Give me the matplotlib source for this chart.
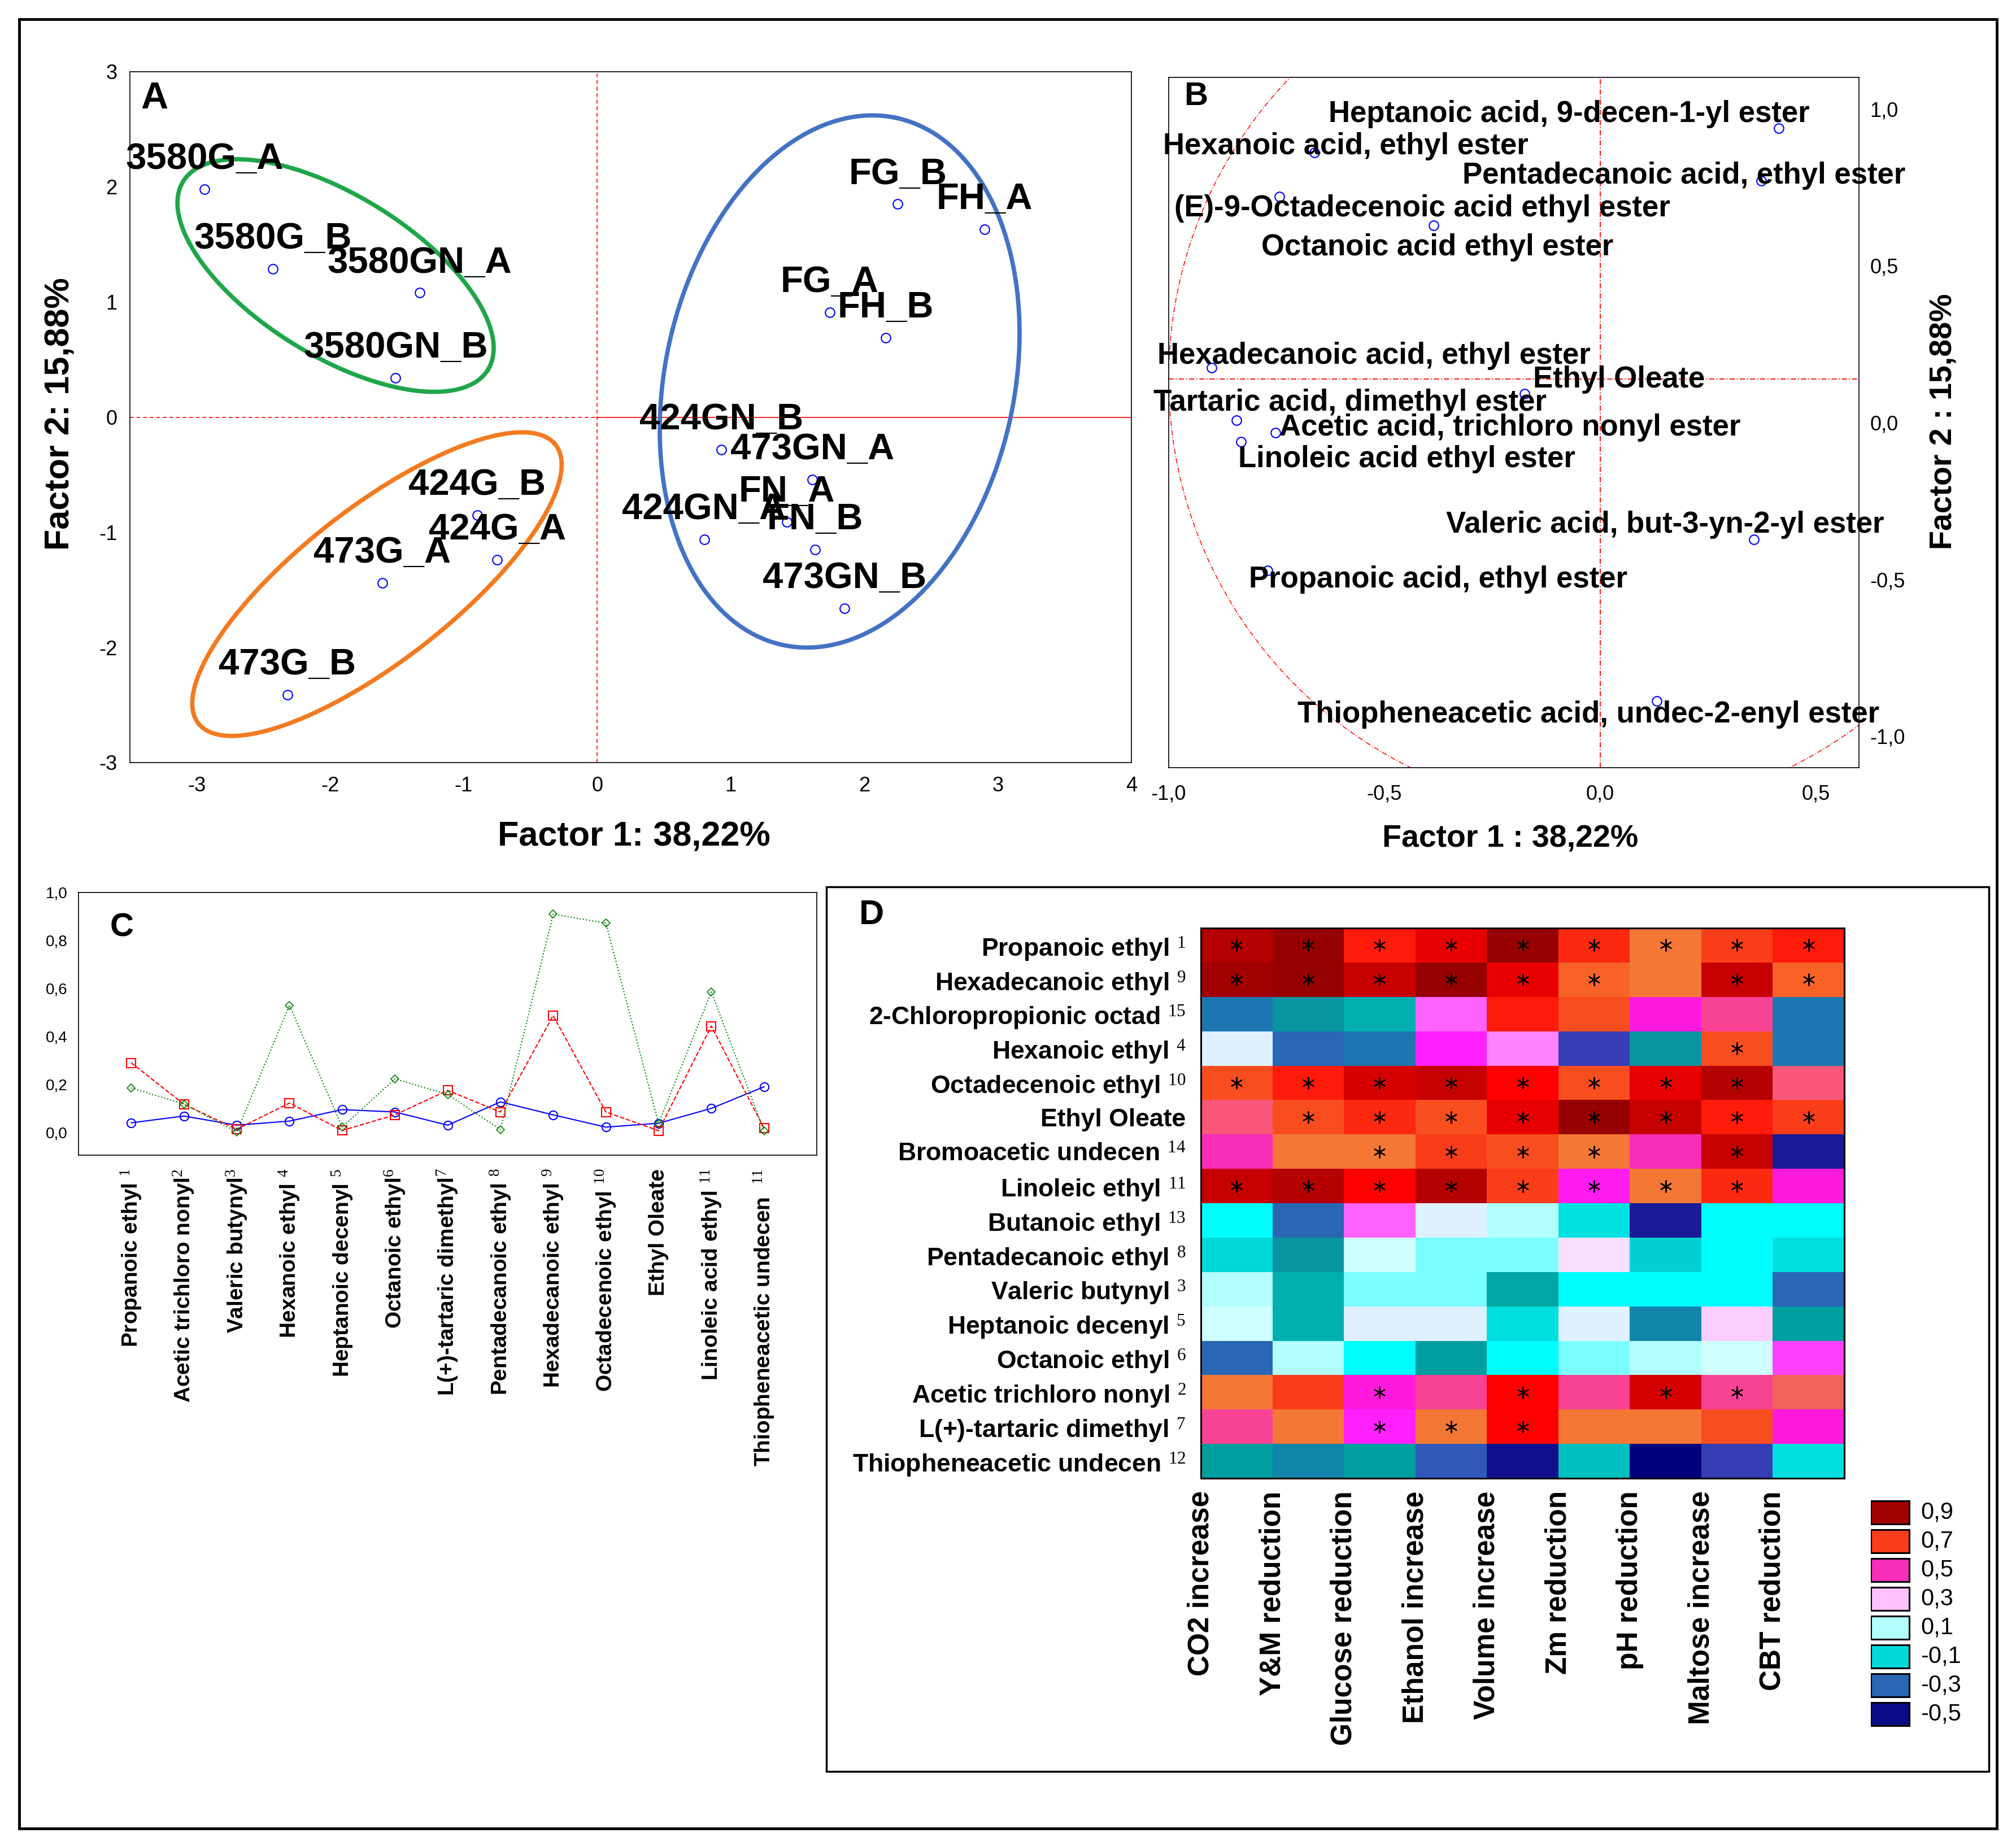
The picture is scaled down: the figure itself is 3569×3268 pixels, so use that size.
import numpy as np
import matplotlib
matplotlib.use('Agg')
import matplotlib.pyplot as plt
from matplotlib import font_manager
from matplotlib.colors import LinearSegmentedColormap, Normalize
from matplotlib.patches import Rectangle, Ellipse

names = {f.name for f in font_manager.fontManager.ttflist}
SANS = 'Liberation Sans' if 'Liberation Sans' in names else 'DejaVu Sans'

plt.rcParams['font.family'] = SANS
plt.rcParams['axes.unicode_minus'] = False
plt.rcParams['mathtext.fontset'] = 'custom'
plt.rcParams['mathtext.rm'] = 'Liberation Serif'
plt.rcParams['mathtext.it'] = 'Liberation Serif:italic'
plt.rcParams['mathtext.bf'] = 'Liberation Serif:bold'

# ---------------- panel A: sample scores
samples = ['3580G_A', '3580G_B', '3580GN_A', '3580GN_B', '424G_B', '424G_A', '473G_A', '473G_B',
           'FG_B', 'FH_A', 'FG_A', 'FH_B', '424GN_B', '473GN_A', 'FN_A', 'FN_B', '424GN_A', '473GN_B']
score_f1 = [-2.94, -2.43, -1.33, -1.51, -0.90, -0.75, -1.61, -2.32,
            2.25, 2.90, 1.74, 2.16, 0.93, 1.61, 1.42, 1.63, 0.80, 1.85]
score_f2 = [1.98, 1.29, 1.08, 0.34, -0.85, -1.24, -1.44, -2.41,
            1.85, 1.63, 0.91, 0.69, -0.28, -0.54, -0.91, -1.15, -1.06, -1.66]
# group ellipses: centre, semi axis u, semi axis v (data units)
groups = [
    ('#1fa64a', (-1.96, 1.23), (1.14, -0.82), (0.32, 0.59)),
    ('#f47a20', (-1.65, -1.45), (1.33, 1.22), (-0.38, 0.50)),
    ('#4472c4', (1.815, 0.31), (0.42, 2.29), (1.28, -0.31)),
]

# ---------------- panel B: variable loadings
compounds = ['Heptanoic acid, 9-decen-1-yl ester', 'Hexanoic acid, ethyl ester',
             'Pentadecanoic acid, ethyl ester', '(E)-9-Octadecenoic acid ethyl ester',
             'Octanoic acid ethyl ester', 'Hexadecanoic acid, ethyl ester', 'Ethyl Oleate',
             'Tartaric acid, dimethyl ester', 'Acetic acid, trichloro nonyl ester',
             'Linoleic acid ethyl ester', 'Valeric acid, but-3-yn-2-yl ester',
             'Propanoic acid, ethyl ester', 'Thiopheneacetic acid, undec-2-enyl ester']
load_f1 = [0.414, -0.662, 0.373, -0.743, -0.386, -0.900, -0.175, -0.843, -0.752, -0.833, 0.356, -0.771, 0.131]
load_f2 = [0.938, 0.861, 0.770, 0.720, 0.628, 0.175, 0.092, 0.008, -0.033, -0.062, -0.372, -0.472, -0.887]
# label anchors (left, middle)
lab_x = [-0.630, -1.013, -0.319, -0.987, -0.785, -1.026, -0.156, -1.035, -0.743, -0.839, -0.357, -0.814, -0.702]
lab_y = [0.983, 0.880, 0.787, 0.683, 0.558, 0.213, 0.137, 0.063, -0.017, -0.117, -0.325, -0.500, -0.930]

# ---------------- panel C: profiles
c_labels = ['Propanoic ethyl $^{1}$', 'Acetic trichloro nonyl$^{2}$', 'Valeric butynyl$^{3}$',
            'Hexanoic ethyl $^{4}$', 'Heptanoic decenyl $^{5}$', 'Octanoic ethyl$^{6}$',
            'L(+)-tartaric dimethyl$^{7}$', 'Pentadecanoic ethyl $^{8}$', 'Hexadecanoic ethyl $^{9}$',
            'Octadecenoic ethyl $^{10}$', 'Ethyl Oleate', 'Linoleic acid ethyl $^{11}$',
            'Thiopheneacetic undecen  $^{11}$']
c_blue = [0.040, 0.068, 0.030, 0.047, 0.095, 0.085, 0.030, 0.127, 0.073, 0.022, 0.038, 0.100, 0.190]
c_red = [0.290, 0.117, 0.013, 0.122, 0.008, 0.073, 0.175, 0.085, 0.487, 0.085, 0.007, 0.443, 0.017]
c_green = [0.185, 0.118, 0.002, 0.530, 0.022, 0.223, 0.158, 0.012, 0.910, 0.872, 0.037, 0.585, 0.007]

# ---------------- panel D: correlation heatmap
d_rows = ['Propanoic ethyl', 'Hexadecanoic ethyl', '2-Chloropropionic octad', 'Hexanoic ethyl',
          'Octadecenoic ethyl', 'Ethyl Oleate', 'Bromoacetic undecen', 'Linoleic ethyl',
          'Butanoic ethyl', 'Pentadecanoic ethyl', 'Valeric butynyl', 'Heptanoic decenyl',
          'Octanoic ethyl', 'Acetic trichloro nonyl', 'L(+)-tartaric dimethyl', 'Thiopheneacetic undecen']
d_sup = [1, 9, 15, 4, 10, None, 14, 11, 13, 8, 3, 5, 6, 2, 7, 12]
d_cols = ['CO2 increase', 'Y&M reduction', 'Glucose reduction', 'Ethanol increase', 'Volume increase',
          'Zm reduction', 'pH reduction', 'Maltose increase', 'CBT reduction']
d_vals = np.array([
    [0.87, 0.95, 0.73, 0.80, 0.95, 0.715, 0.60, 0.70, 0.73],
    [0.90, 0.95, 0.84, 0.95, 0.80, 0.64, 0.60, 0.84, 0.64],
    [-0.27, -0.23, -0.15, 0.38, 0.73, 0.67, 0.47, 0.52, -0.27],
    [0.18, -0.30, -0.27, 0.44, 0.35, -0.40, -0.23, 0.67, -0.27],
    [0.67, 0.73, 0.82, 0.84, 0.76, 0.67, 0.80, 0.87, 0.55],
    [0.55, 0.67, 0.715, 0.67, 0.80, 0.95, 0.84, 0.73, 0.70],
    [0.50, 0.60, 0.60, 0.70, 0.67, 0.60, 0.50, 0.84, -0.47],
    [0.84, 0.87, 0.76, 0.87, 0.70, 0.45, 0.60, 0.715, 0.47],
    [0.00, -0.30, 0.38, 0.18, 0.10, -0.07, -0.47, 0.00, 0.00],
    [-0.10, -0.23, 0.14, 0.05, 0.05, 0.25, -0.11, 0.00, -0.08],
    [0.10, -0.15, 0.05, 0.05, -0.18, 0.00, 0.00, 0.00, -0.30],
    [0.14, -0.15, 0.18, 0.18, -0.08, 0.18, -0.25, 0.28, -0.20],
    [-0.30, 0.10, 0.00, -0.20, 0.00, 0.05, 0.10, 0.14, 0.41],
    [0.60, 0.70, 0.47, 0.52, 0.76, 0.52, 0.82, 0.52, 0.57],
    [0.52, 0.60, 0.44, 0.60, 0.76, 0.60, 0.60, 0.67, 0.47],
    [-0.20, -0.25, -0.20, -0.35, -0.49, -0.13, -0.55, -0.40, -0.08],
])
d_star = np.array([
    [1, 1, 1, 1, 1, 1, 1, 1, 1],
    [1, 1, 1, 1, 1, 1, 0, 1, 1],
    [0, 0, 0, 0, 0, 0, 0, 0, 0],
    [0, 0, 0, 0, 0, 0, 0, 1, 0],
    [1, 1, 1, 1, 1, 1, 1, 1, 0],
    [0, 1, 1, 1, 1, 1, 1, 1, 1],
    [0, 0, 1, 1, 1, 1, 0, 1, 0],
    [1, 1, 1, 1, 1, 1, 1, 1, 0],
    [0, 0, 0, 0, 0, 0, 0, 0, 0],
    [0, 0, 0, 0, 0, 0, 0, 0, 0],
    [0, 0, 0, 0, 0, 0, 0, 0, 0],
    [0, 0, 0, 0, 0, 0, 0, 0, 0],
    [0, 0, 0, 0, 0, 0, 0, 0, 0],
    [0, 0, 1, 0, 1, 0, 1, 1, 0],
    [0, 0, 1, 1, 1, 0, 0, 0, 0],
    [0, 0, 0, 0, 0, 0, 0, 0, 0],
], dtype=bool)
legend_levels = [0.9, 0.7, 0.5, 0.3, 0.1, -0.1, -0.3, -0.5]

cmap_anchors = [
    (-0.60, '#000078'), (-0.55, '#000080'), (-0.50, '#0c0c88'), (-0.47, '#1c1c98'),
    (-0.40, '#3840b8'), (-0.35, '#3058b8'), (-0.30, '#2868b4'), (-0.27, '#1c78b0'),
    (-0.25, '#1088a8'), (-0.23, '#0894a0'), (-0.20, '#00a0a0'), (-0.15, '#00b0b0'),
    (-0.10, '#00d8d8'), (-0.05, '#00e8e8'), (0.00, '#00ffff'), (0.05, '#78ffff'),
    (0.10, '#b8ffff'), (0.14, '#d0ffff'), (0.18, '#e0f0ff'), (0.25, '#f8e0ff'),
    (0.30, '#ffc0ff'), (0.35, '#ff80ff'), (0.38, '#ff60ff'), (0.41, '#ff40ff'),
    (0.44, '#ff20ff'), (0.47, '#ff18e0'), (0.50, '#f828c0'), (0.52, '#f84098'),
    (0.55, '#f85878'), (0.57, '#f06060'), (0.60, '#f47834'), (0.64, '#f86428'),
    (0.67, '#f85020'), (0.70, '#f83c18'), (0.73, '#ff1a0a'), (0.76, '#ff0000'),
    (0.80, '#e80000'), (0.84, '#c80000'), (0.87, '#b80000'), (0.90, '#a40000'),
    (0.95, '#960000'), (1.00, '#8c0000'),
]
vmin, vmax = -0.6, 1.0
cmap = LinearSegmentedColormap.from_list(
    'corr', [((v - vmin) / (vmax - vmin), c) for v, c in cmap_anchors])
norm = Normalize(vmin, vmax)

W, H = 3569, 3268


def box(l, t, r, b):
    return [l / W, 1 - b / H, (r - l) / W, (b - t) / H]


def comma(v, nd=1):
    return f'{v:.{nd}f}'.replace('.', ',')


fig = plt.figure(figsize=(W / 100, H / 100), dpi=100)

# outer frame and panel D frame
fig.add_artist(Rectangle((34 / W, 1 - 3237 / H), (3535 - 34) / W, (3237 - 34) / H,
                         transform=fig.transFigure, fill=False, lw=3.5, ec='black'))
fig.add_artist(Rectangle((1463 / W, 1 - 3136 / H), (3521 - 1463) / W, (3136 - 1570) / H,
                         transform=fig.transFigure, fill=False, lw=2.5, ec='black'))

# ================= A
axA = fig.add_axes(box(230, 127, 2003, 1350))
axA.set_xlim(-3.5, 4)
axA.set_ylim(-3, 3)
axA.axvline(0, color='#ff0000', ls=(0, (4, 3)), lw=1.2)
axA.plot([-3.5, 0], [0, 0], color='#ff0000', ls=(0, (4, 3)), lw=1.2)
axA.plot([0, 4], [0, 0], color='#ff0000', ls='-', lw=1.2)
t = np.linspace(0, 2 * np.pi, 300)
for col, c, u, v in groups:
    axA.plot(c[0] + u[0] * np.cos(t) + v[0] * np.sin(t),
             c[1] + u[1] * np.cos(t) + v[1] * np.sin(t), color=col, lw=5.5)
axA.plot(score_f1, score_f2, 'o', mfc='none', mec='#0000ff', ms=12, mew=1.5, ls='none')
for name, x, y in zip(samples, score_f1, score_f2):
    axA.annotate(name, (x, y), xytext=(0, 38), textcoords='offset points', ha='center',
                 va='center', fontsize=47, fontweight='bold')
axA.set_xticks(range(-3, 5))
axA.set_xticklabels([str(v) for v in range(-3, 5)])
axA.set_yticks(range(-3, 4))
axA.set_yticklabels([str(v) for v in range(-3, 4)])
axA.tick_params(axis='x', length=0, labelsize=26, pad=17)
axA.tick_params(axis='y', length=0, labelsize=26, pad=16)
for s in axA.spines.values():
    s.set_linewidth(1.2)
fig.text(273 / W, 1 - 175 / H, 'A', fontsize=48, fontweight='bold', ha='center', va='center')
fig.text(1122 / W, 1 - 1482 / H, 'Factor 1: 38,22%', fontsize=44, fontweight='bold',
         ha='center', va='center')
fig.text(107 / W, 1 - 733 / H, 'Factor 2: 15,88%', fontsize=44, fontweight='bold',
         ha='center', va='center', rotation=90)

# ================= B
axB = fig.add_axes(box(2069, 137, 3291, 1359))
axB.set_xlim(-1.0, 0.6)
axB.set_ylim(-1.1, 1.1)
axB.add_patch(Ellipse((0, 0.14), 2.0, 2.76, fill=False, ec='#ff0000', lw=1.1,
                      ls=(0, (6, 2, 1, 2))))
axB.axvline(0, color='#ff0000', ls=(0, (5, 2, 1, 2)), lw=1.3)
axB.axhline(0.138, color='#ff0000', ls=(0, (5, 2, 1, 2)), lw=1.3)
axB.plot(load_f1, load_f2, 'o', mfc='none', mec='#0000ff', ms=12, mew=1.5, ls='none')
for name, x, y in zip(compounds, lab_x, lab_y):
    axB.text(x, y, name, ha='left', va='center', fontsize=38, fontweight='bold')
bx = [-1.0, -0.5, 0.0, 0.5]
by = [1.0, 0.5, 0.0, -0.5, -1.0]
axB.set_xticks(bx)
axB.set_xticklabels([comma(v) for v in bx])
axB.set_yticks(by)
axB.set_yticklabels([comma(v) for v in by])
axB.yaxis.tick_right()
axB.tick_params(axis='x', length=0, labelsize=26, pad=21)
axB.tick_params(axis='y', length=0, labelsize=26, pad=14)
for s in axB.spines.values():
    s.set_linewidth(1.2)
fig.text(2117 / W, 1 - 171 / H, 'B', fontsize=42, fontweight='bold', ha='center', va='center')
fig.text(2674 / W, 1 - 1486 / H, 'Factor 1 : 38,22%', fontsize=40, fontweight='bold',
         ha='center', va='center')
fig.text(3441 / W, 1 - 746 / H, 'Factor 2 : 15,88%', fontsize=40, fontweight='bold',
         ha='center', va='center', rotation=90)

# ================= C
axC = fig.add_axes(box(139, 1580, 1446, 2045))
xc = np.arange(len(c_labels))
axC.plot(xc, c_blue, '-o', color='#0000ff', mfc='none', ms=11, mew=1.5, lw=1.5)
axC.plot(xc, c_red, '--s', color='#ff0000', mfc='none', ms=12, mew=1.5, lw=1.5)
axC.plot(xc, c_green, ':D', color='#008000', mfc='none', ms=7, mew=1.2, lw=1.5)
axC.set_xlim(-1, 13)
axC.set_ylim(-0.095, 1.0)
axC.set_xticks(xc)
axC.set_xticklabels(c_labels, rotation=90, fontsize=28, fontweight='bold')
cy = [0.0, 0.2, 0.4, 0.6, 0.8, 1.0]
axC.set_yticks(cy)
axC.set_yticklabels([comma(v) for v in cy])
axC.tick_params(axis='x', length=0, pad=17)
axC.tick_params(axis='y', length=0, labelsize=20, pad=14)
for s in axC.spines.values():
    s.set_linewidth(1.2)
fig.text(216 / W, 1 - 1643 / H, 'C', fontsize=42, fontweight='bold', ha='center', va='center')

# ================= D
axD = fig.add_axes(box(2126, 1643, 3265, 2617))
nr, nc = d_vals.shape
axD.pcolormesh(np.arange(nc + 1), np.arange(nr + 1), d_vals, cmap=cmap, norm=norm)
axD.set_xlim(0, nc)
axD.set_ylim(nr, 0)
si, sj = np.nonzero(d_star)
axD.scatter(sj + 0.5, si + 0.5, marker=(6, 2, 0), s=210, c='black', linewidths=1.6)
axD.set_yticks(np.arange(nr) + 0.5)
axD.set_yticklabels([n if s is None else n + r' $^{%d}$' % s for n, s in zip(d_rows, d_sup)],
                    fontsize=32, fontweight='bold')
axD.set_xticks(np.arange(nc))
axD.set_xticklabels(d_cols, rotation=90, fontsize=37, fontweight='bold')
axD.tick_params(axis='y', length=0, pad=19)
axD.tick_params(axis='x', length=0, pad=16)
for s in axD.spines.values():
    s.set_linewidth(2.2)
fig.text(1543 / W, 1 - 1620 / H, 'D', fontsize=44, fontweight='bold', ha='center', va='center')

# legend for D
axL = fig.add_axes(box(3312, 2652, 3530, 3060))
axL.set_xlim(0, 218)
axL.set_ylim(len(legend_levels), 0)
axL.axis('off')
for k, lv in enumerate(legend_levels):
    axL.add_patch(Rectangle((0, k + 0.1), 68, 0.8, fc=cmap(norm(lv)), ec='black', lw=2.2))
    axL.text(88, k + 0.5, comma(lv), ha='left', va='center', fontsize=30)

fig.savefig('out.png', dpi=100)
